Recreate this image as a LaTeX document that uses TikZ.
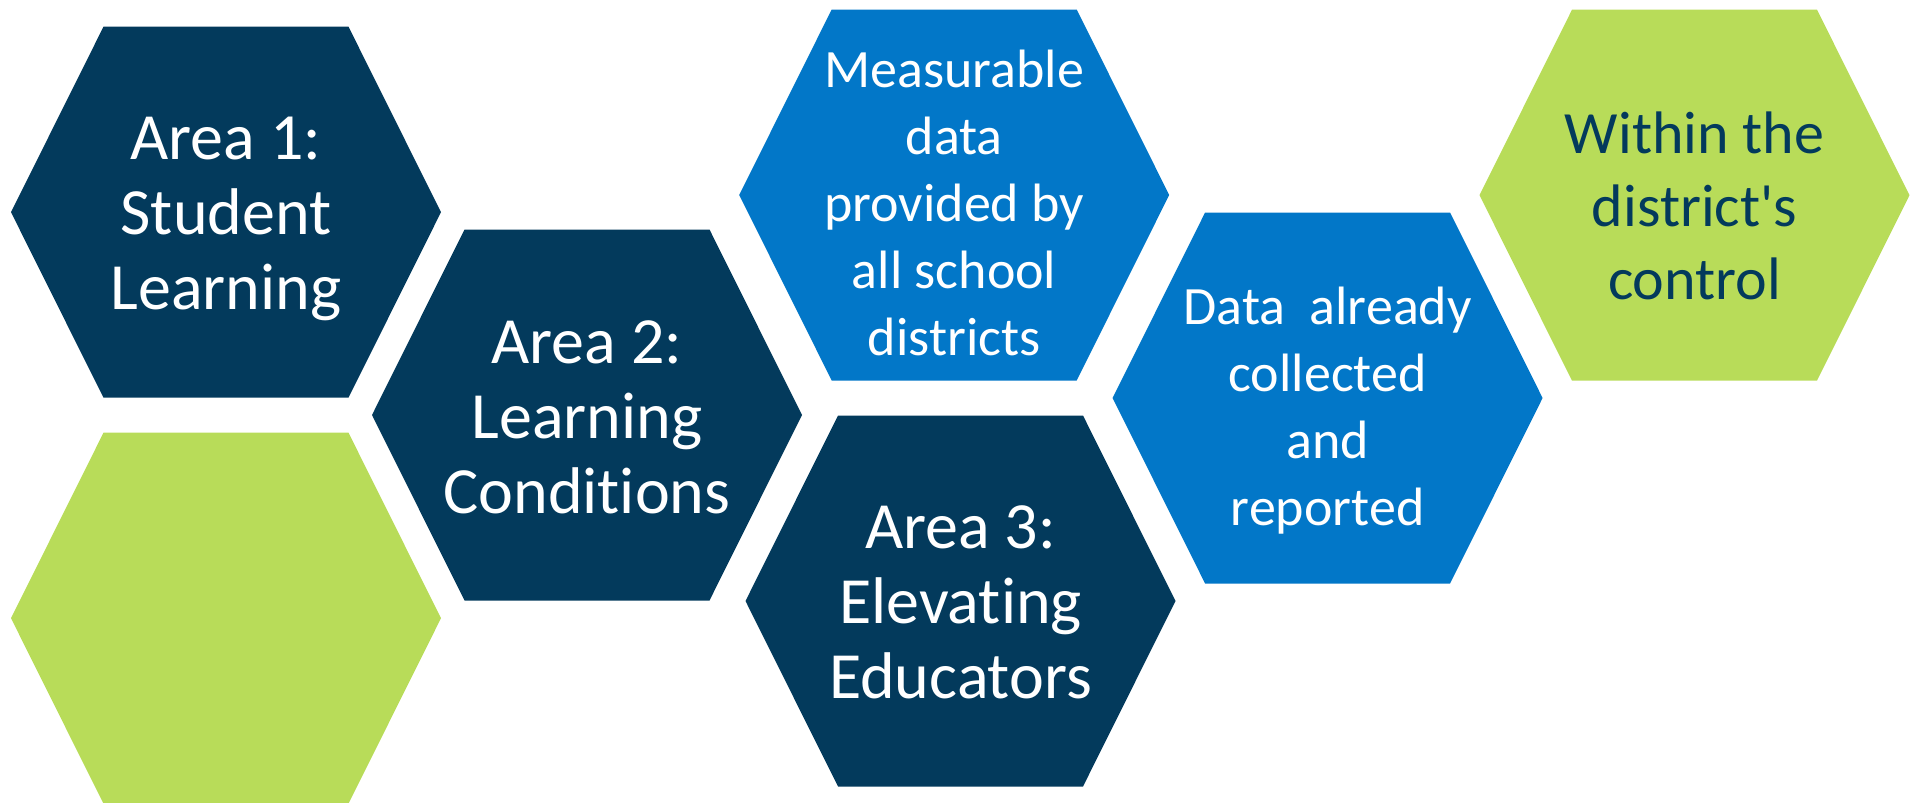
\documentclass[tikz,border=0pt]{standalone}
\usepackage{fontspec}
\setmainfont{Carlito}[Ligatures={TeXOff,NoCommon}]
\definecolor{navy}{RGB}{3,58,92}
\definecolor{midblue}{RGB}{2,119,200}
\definecolor{lime}{RGB}{184,220,89}
\tikzset{
  pics/hexa/.style={code={
    \fill[#1] (-215,0) -- (-122.5,185.5) -- (122.5,185.5) -- (215,0)
      -- (122.5,-185.5) -- (-122.5,-185.5) -- cycle;}},
  bigtxt/.style={align=center, inner sep=0pt, text=white,
    font=\fontsize{66}{75}\selectfont},
  midtxt/.style={align=center, inner sep=0pt, text=white,
    font=\fontsize{54}{67}\selectfont},
  greentxt/.style={align=center, inner sep=0pt, text=navy,
    font=\fontsize{60}{73}\selectfont}
}
\begin{document}
\begin{tikzpicture}[x=1pt,y=-1pt]
\useasboundingbox (0,0) rectangle (1912,803);
\begin{scope}
\clip (0,0) rectangle (1912,803);
\pic at (226,212.2) {hexa=navy};
\pic at (226,618.2) {hexa=lime};
\pic at (587,415) {hexa=navy};
\pic at (954.2,195) {hexa=midblue};
\pic at (960.5,601) {hexa=navy};
\pic at (1327.6,398) {hexa=midblue};
\pic at (1694.5,195.2) {hexa=lime};
\end{scope}
\node[bigtxt] (t1) at (226,219.4) {Area 1:\\Student\\Learning};
\node[bigtxt] (t2) at (587,417.2) {Area 2:\\Learning\\Conditions};
\node[bigtxt] (t3) at (960.5,602) {Area 3:\\Elevating\\Educators};
\node[midtxt] (tm) at (954.2,202.8) {Measurable\\data\\provided by\\all school\\districts};
\node[midtxt] (td) at (1327.6,410.3) {Data\ \ already\\collected\\and\\reported};
\node[greentxt] (tw) at (1694.5,205.6) {Within the\\district's\\control};
\end{tikzpicture}
\end{document}
